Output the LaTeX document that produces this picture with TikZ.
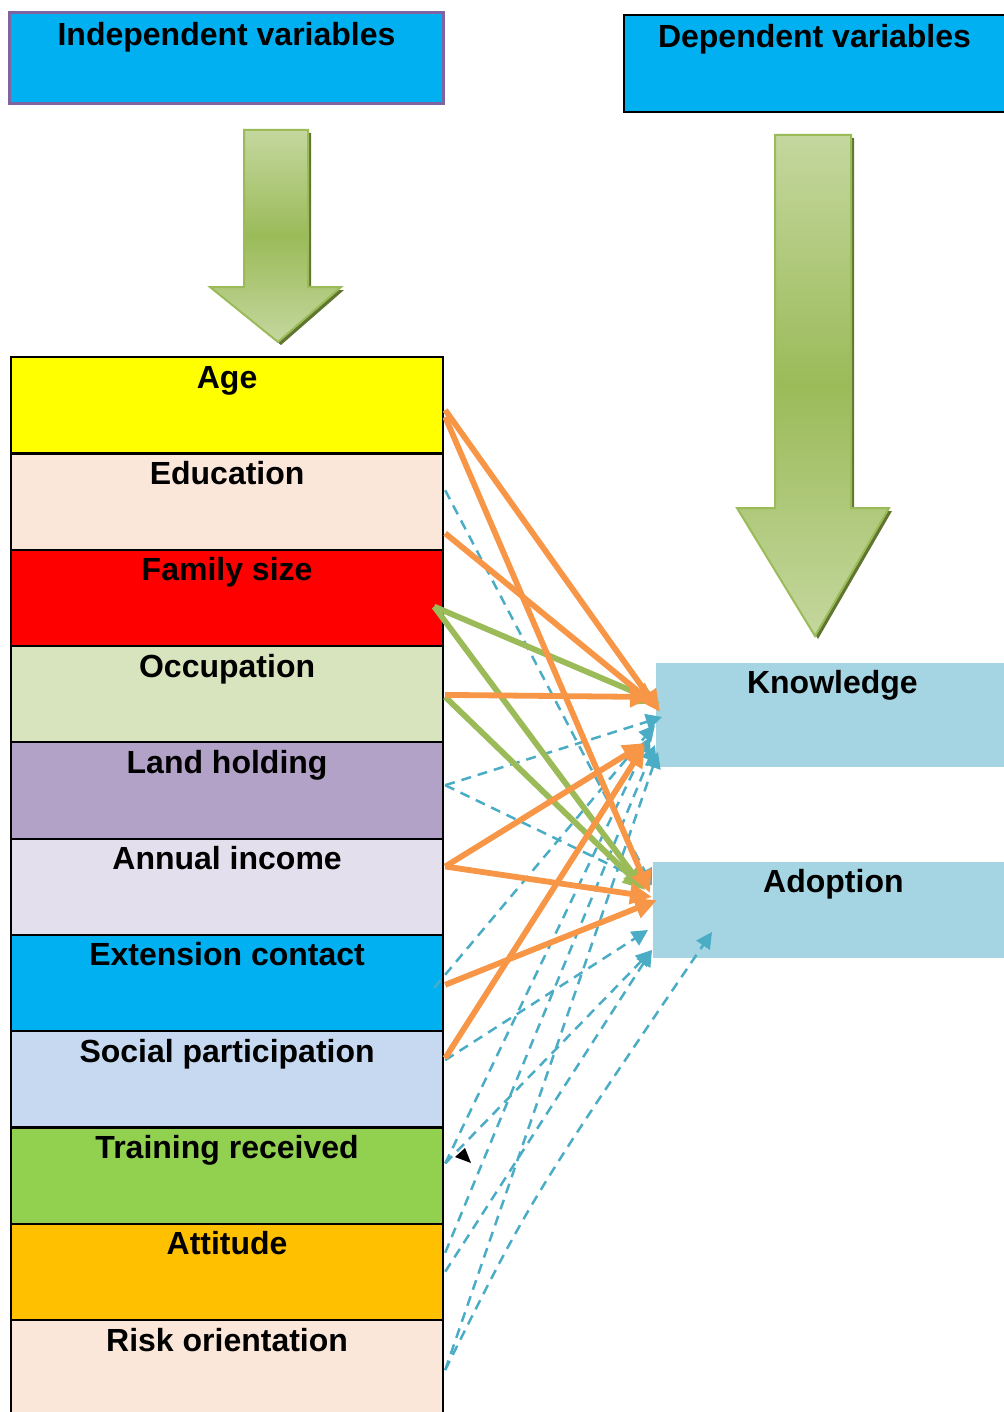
\documentclass[tikz,border=0pt]{standalone}
\usepackage{fontspec}
\setmainfont{Liberation Sans}
\usetikzlibrary{arrows.meta,calc}

\definecolor{hdrblue}{HTML}{00B0F0}
\definecolor{hdrpurple}{HTML}{8064A2}
\definecolor{depbox}{HTML}{A5D5E2}
\definecolor{orangeC}{HTML}{F79646}
\definecolor{greenC}{HTML}{9BBB59}
\definecolor{blueC}{HTML}{4BACC6}
\definecolor{arrLight}{HTML}{C4D79E}
\definecolor{arrMid}{HTML}{9BBB59}
\definecolor{arrShadow}{HTML}{5F7530}
\definecolor{cAge}{HTML}{FFFF00}
\definecolor{cEdu}{HTML}{FBE7D9}
\definecolor{cFam}{HTML}{FF0000}
\definecolor{cOcc}{HTML}{D7E4BD}
\definecolor{cLand}{HTML}{B2A2C7}
\definecolor{cInc}{HTML}{E4DFEC}
\definecolor{cExt}{HTML}{00B0F0}
\definecolor{cSoc}{HTML}{C6D9F1}
\definecolor{cTrn}{HTML}{92D050}
\definecolor{cAtt}{HTML}{FFC000}
\definecolor{cRisk}{HTML}{FBE7D9}

\tikzset{
  lbl/.style={font=\bfseries\fontsize{16}{19}\selectfont, inner ysep=0pt, inner xsep=0pt, align=center},
  varbox/.style={lbl, draw=black, line width=1.1pt, anchor=north west,
    minimum width=216pt, text height=15.5pt, text depth=32.65pt},
  hdrbox/.style={lbl, fill=hdrblue, anchor=north west},
  outbox/.style={lbl, fill=depbox, anchor=north west},
  oline/.style={draw=orangeC, line width=2.9pt, -{Triangle[length=11pt,width=10pt]}},
  gline/.style={draw=greenC, line width=2.9pt, -{Triangle[length=11pt,width=10pt]}},
  bline/.style={draw=blueC, line width=1.25pt, dash pattern=on 5pt off 3.5pt,
    -{Triangle[length=8pt,width=8pt]}},
}

\begin{document}
\begin{tikzpicture}[x=0.5pt, y=-0.5pt]
\useasboundingbox (0,0) rectangle (1003,1412);

% headers
\node[hdrbox, draw=hdrpurple, line width=1.5pt, minimum width=217pt,
      text height=16.5pt, text depth=29pt] (indep) at (8,11) {Independent variables};
\node[hdrbox, draw=black, line width=1pt, minimum width=190.5pt,
      text height=16.5pt, text depth=32pt] (dep) at (623,14) {Dependent variables};

% big downward arrows (shadow first, then shaded body)
\fill[arrShadow] (247,133) -- (311,133) -- (311,290) -- (344,290) -- (281,345) -- (213,290) -- (247,290) -- cycle;
\shade[top color=arrLight, bottom color=arrLight, middle color=arrMid, draw=greenC, line width=1pt]
  (244,130) -- (308,130) -- (308,287) -- (341,287) -- (278,342) -- (210,287) -- (244,287) -- cycle;
\fill[arrShadow] (778,138) -- (854,138) -- (854,511) -- (892,511) -- (818,639) -- (740,511) -- (778,511) -- cycle;
\shade[top color=arrLight, bottom color=arrLight, middle color=arrMid, draw=greenC, line width=1pt]
  (775,135) -- (851,135) -- (851,508) -- (889,508) -- (815,636) -- (737,508) -- (775,508) -- cycle;

% independent variables
\node[varbox, fill=cAge]  (age)  at (10,356)    {Age};
\node[varbox, fill=cEdu]  (edu)  at (10,452.3)  {Education};
\node[varbox, fill=cFam]  (fam)  at (10,548.6)  {Family size};
\node[varbox, fill=cOcc]  (occ)  at (10,644.9)  {Occupation};
\node[varbox, fill=cLand] (land) at (10,741.2)  {Land holding};
\node[varbox, fill=cInc]  (inc)  at (10,837.5)  {Annual income};
\node[varbox, fill=cExt]  (ext)  at (10,933.8)  {Extension contact};
\node[varbox, fill=cSoc]  (soc)  at (10,1030.1) {Social participation};
\node[varbox, fill=cTrn]  (trn)  at (10,1126.4) {Training received};
\node[varbox, fill=cAtt]  (att)  at (10,1222.7) {Attitude};
\node[varbox, fill=cRisk] (risk) at (10,1319)   {Risk orientation};

% dependent variables
\node[outbox, minimum width=176pt, text height=15pt, text depth=37pt] (know) at (656,663) {Knowledge};
\node[outbox, minimum width=180pt, text height=15pt, text depth=33pt] (adop) at (653,862) {Adoption};

% dashed links
\draw[bline] ($(edu.north east)+(1,38)$)   -- ($(adop.north west)+(-1,23)$);
\draw[bline] ($(land.north east)+(1,44)$)  -- ($(know.north west)+(6,54)$);
\draw[bline] ($(land.north east)+(1,44)$)  -- ($(adop.north west)+(-1,23)$);
\draw[bline] ($(ext.north east)+(-10,54)$) -- ($(know.north west)+(-1,62)$);
\draw[bline] ($(soc.north east)+(1,30)$)   -- ($(adop.north west)+(-5,68)$);
\draw[bline] ($(trn.north east)+(1,37)$)   -- ($(know.north west)+(-6,74)$);
\draw[bline] ($(trn.north east)+(1,37)$)   -- ($(adop.north west)+(-1,88)$);
\draw[bline] ($(att.north east)+(1,30)$)   -- ($(know.north west)+(-1,82)$);
\draw[bline] ($(att.north east)+(1,49)$)   -- ($(adop.north west)+(-1,88)$);
\draw[bline] ($(risk.north east)+(1,51)$)  -- ($(know.north west)+(2,89)$);
\draw[bline] ($(risk.north east)+(1,51)$)  .. controls (530,1200) .. ($(adop.north west)+(59,70)$);

% solid links
\draw[gline] ($(fam.north east)+(-10,58)$) -- ($(know.north west)+(4,40)$);
\draw[gline] ($(fam.north east)+(-10,58)$) -- ($(adop.north west)+(-8,28)$);
\draw[gline] ($(occ.north east)+(1,52)$)   -- ($(adop.north west)+(-8,28)$);
\draw[oline] ($(age.north east)+(1,54)$)   -- ($(know.north west)+(4,49)$);
\draw[oline] ($(age.north east)+(1,61)$)   -- ($(adop.north west)+(-3,31)$);
\draw[oline] ($(edu.north east)+(1,81)$)   -- ($(know.north west)+(-1,42)$);
\draw[oline] ($(occ.north east)+(1,50)$)   -- ($(know.north west)+(-4,34)$);
\draw[oline] ($(inc.north east)+(1,29)$)   -- ($(know.north west)+(-11,80)$);
\draw[oline] ($(inc.north east)+(1,29)$)   -- ($(adop.north west)+(-1,35)$);
\draw[oline] ($(ext.north east)+(1,51)$)   -- ($(adop.north west)+(4,38)$);
\draw[oline] ($(soc.north east)+(1,28)$)   -- ($(know.north west)+(-11,82)$);

% stray arrowhead near the training box
\fill[black] (455,1157) -- (465,1148) -- (471,1163) -- cycle;
\end{tikzpicture}
\end{document}
